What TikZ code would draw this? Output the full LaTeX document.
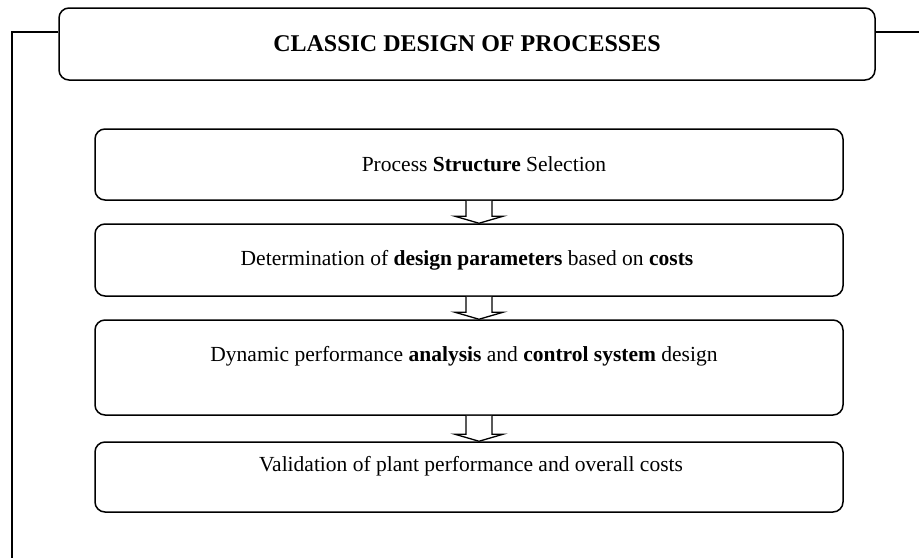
\documentclass[tikz,border=0pt]{standalone}
\usepackage{fontspec}
\setmainfont{Liberation Serif}
\begin{document}
\begin{tikzpicture}[x=1pt,y=-1pt,
  frameline/.style={line width=1.3pt},
  stagebox/.style={draw, line width=1.5pt, rounded corners=10pt, inner sep=0pt,
    minimum width=748pt},
  titlebox/.style={draw, line width=1.5pt, rounded corners=10pt, inner sep=0pt,
    minimum width=816pt, minimum height=72pt, fill=white},
  label/.style={inner sep=0pt, font=\fontsize{21.5}{25}\selectfont},
  titlelabel/.style={inner sep=0pt, font=\fontsize{24}{28}\selectfont\bfseries},
  blockarrow/.style={draw, line width=1.3pt, fill=white, line join=miter}
]
\useasboundingbox (0,0) rectangle (919,558);

% outer frame open at the bottom
\coordinate (fl) at (12,32);
\coordinate (fb) at (12,558);
\coordinate (fr) at (919,32);

% title box
\node[titlebox] (title) at (467,44) {};
\node[titlelabel] (titletext) at (467,44) {CLASSIC DESIGN OF PROCESSES};
\draw[frameline] (title.west |- fl) -- (fl) -- (fb);
\draw[frameline] (title.east |- fr) -- (fr);

% process stages
\node[stagebox, minimum height=71pt] (s1) at (469,164.5) {};
\node[stagebox, minimum height=72pt] (s2) at (469,260) {};
\node[stagebox, minimum height=95pt] (s3) at (469,367.5) {};
\node[stagebox, minimum height=70pt] (s4) at (469,477) {};

\node[label] (t1) at (484,164) {Process \textbf{Structure} Selection};
\node[label] (t2) at (467,260) {Determination of \textbf{design parameters} based on \textbf{costs}};
\node[label] (t3) at (464,356) {Dynamic performance \textbf{analysis} and \textbf{control system} design};
\node[label] (t4) at (471,466) {Validation of plant performance and overall costs};

% hollow block arrows between stages (shifts are in page units, up positive)
\foreach \a/\b in {s1/s2, s2/s3, s3/s4}{
  \draw[blockarrow]
    ([xshift=-3pt]\a.south) -- ([xshift=-3pt,yshift=7pt]\b.north)
    -- ([xshift=-14pt,yshift=7pt]\b.north)
    -- ([xshift=10pt]\b.north)
    -- ([xshift=34pt,yshift=7pt]\b.north)
    -- ([xshift=23pt,yshift=7pt]\b.north)
    -- ([xshift=23pt]\a.south);
}
\end{tikzpicture}
\end{document}
